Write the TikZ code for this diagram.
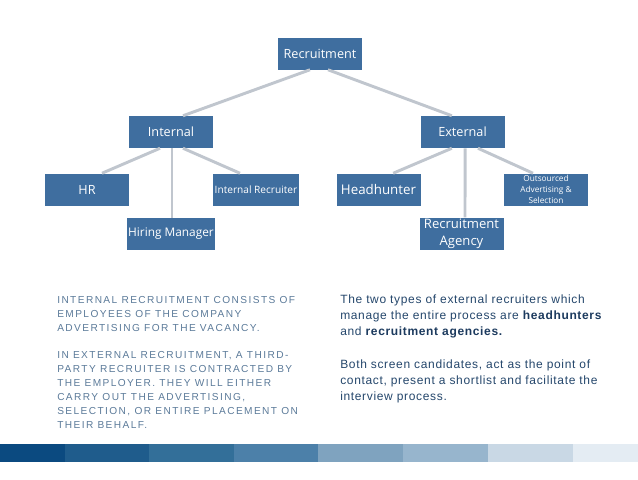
\documentclass[tikz,border=0pt]{standalone}
\usepackage{fontspec}
\setmainfont{Liberation Sans}
\newfontfamily\boxfont{Open Sans}
\definecolor{boxblue}{HTML}{3F6E9F}
\definecolor{linegrey}{HTML}{C0C6CE}
\definecolor{lefttext}{HTML}{5B7A99}
\definecolor{righttext}{HTML}{24466B}
\definecolor{boldtext}{HTML}{1C3A5E}
\definecolor{barA}{HTML}{0B4A80}
\definecolor{barB}{HTML}{1F5C8C}
\definecolor{barC}{HTML}{336F99}
\definecolor{barD}{HTML}{4C80A9}
\definecolor{barE}{HTML}{7FA3BF}
\definecolor{barF}{HTML}{97B5CD}
\definecolor{barG}{HTML}{C9D8E5}
\definecolor{barH}{HTML}{E4ECF3}
\tikzset{
  orgbox/.style={fill=boxblue, draw=none, text=white, minimum width=63pt, minimum height=24pt, inner sep=1pt, align=center, font=\boxfont\fontsize{9.5pt}{11pt}\selectfont},
  link/.style={draw=linegrey, line width=2.2pt},
  lefttxt/.style={anchor=base west, inner sep=0, text=lefttext, font=\fontsize{7.6pt}{10.5pt}\selectfont\addfontfeature{LetterSpace=14}},
  righttxt/.style={anchor=base west, inner sep=0, text=righttext, font=\fontsize{9pt}{12pt}\selectfont\addfontfeature{LetterSpace=5.5}}
}
\begin{document}
\begin{tikzpicture}[x=0.75pt, y=-0.75pt]
\useasboundingbox (0,0) rectangle (638,479);
% boxes
\node[orgbox] (rec) at (320,53.5) {Recruitment};
\node[orgbox] (int) at (171,132) {Internal};
\node[orgbox] (ext) at (462.5,132) {External};
\node[orgbox] (hr) at (87,189.5) {HR};
\node[orgbox, font=\boxfont\fontsize{7.6pt}{9pt}\selectfont] (ir) at (256,189.5) {Internal Recruiter};
\node[orgbox, font=\boxfont\fontsize{8.9pt}{10pt}\selectfont] (hm) at (171,234) {Hiring Manager};
\node[orgbox, font=\boxfont\fontsize{10pt}{11pt}\selectfont] (hh) at (378.5,189.5) {Headhunter};
\node[orgbox, font=\boxfont\fontsize{6.2pt}{8.2pt}\selectfont] (out) at (546,189.5) {Outsourced\\Advertising \&\\Selection};
\node[orgbox, font=\boxfont\fontsize{9.8pt}{13pt}\selectfont] (ra) at (461.5,234) {Recruitment\\Agency};
% connectors
\draw[link] ([xshift=-7.5pt]rec.south) -- ([xshift=9pt]int.north);
\draw[link] ([xshift=6pt]rec.south) -- ([xshift=-8pt]ext.north);
\draw[link] ([xshift=-8.25pt]int.south) -- ([xshift=11.25pt]hr.north);
\draw[link] ([xshift=0.75pt]int.south) -- ([xshift=0.75pt]hm.north);
\draw[link] ([xshift=9pt]int.south) -- ([xshift=-12pt]ir.north);
\draw[link] ([xshift=-8pt]ext.south) -- ([xshift=11pt]hh.north);
\draw[link] ([xshift=2pt]ext.south) -- ([xshift=2.6pt]ra.north);
\draw[link] ([xshift=11.6pt]ext.south) -- ([xshift=-9.75pt]out.north);
% left text
\node[lefttxt] (l1) at (57,303) {INTERNAL RECRUITMENT CONSISTS OF};
\node[lefttxt] (l2) at (57,317) {EMPLOYEES OF THE COMPANY};
\node[lefttxt] (l3) at (57,331) {ADVERTISING FOR THE VACANCY.};
\node[lefttxt] (l4) at (57,358) {IN EXTERNAL RECRUITMENT, A THIRD-};
\node[lefttxt] (l5) at (57,372) {PARTY RECRUITER IS CONTRACTED BY};
\node[lefttxt] (l6) at (57,386) {THE EMPLOYER. THEY WILL EITHER};
\node[lefttxt] (l7) at (57,400) {CARRY OUT THE ADVERTISING,};
\node[lefttxt] (l8) at (57,414) {SELECTION, OR ENTIRE PLACEMENT ON};
\node[lefttxt] (l9) at (57,428) {THEIR BEHALF.};
% right text
\node[righttxt] (r1) at (340,303) {The two types of external recruiters which};
\node[righttxt] (r2) at (340,319) {manage the entire process are \textcolor{boldtext}{\bfseries headhunters}};
\node[righttxt] (r3) at (340,335) {and \textcolor{boldtext}{\bfseries recruitment agencies.}};
\node[righttxt] (r4) at (340,368) {Both screen candidates, act as the point of};
\node[righttxt] (r5) at (340,384) {contact, present a shortlist and facilitate the};
\node[righttxt] (r6) at (340,400) {interview process.};
% bottom bar
\fill[barA] (0,444) rectangle (65,461.5);
\fill[barB] (65,444) rectangle (149,461.5);
\fill[barC] (149,444) rectangle (234,461.5);
\fill[barD] (234,444) rectangle (318,461.5);
\fill[barE] (318,444) rectangle (403,461.5);
\fill[barF] (403,444) rectangle (488,461.5);
\fill[barG] (488,444) rectangle (573,461.5);
\fill[barH] (573,444) rectangle (638,461.5);
\end{tikzpicture}
\end{document}
